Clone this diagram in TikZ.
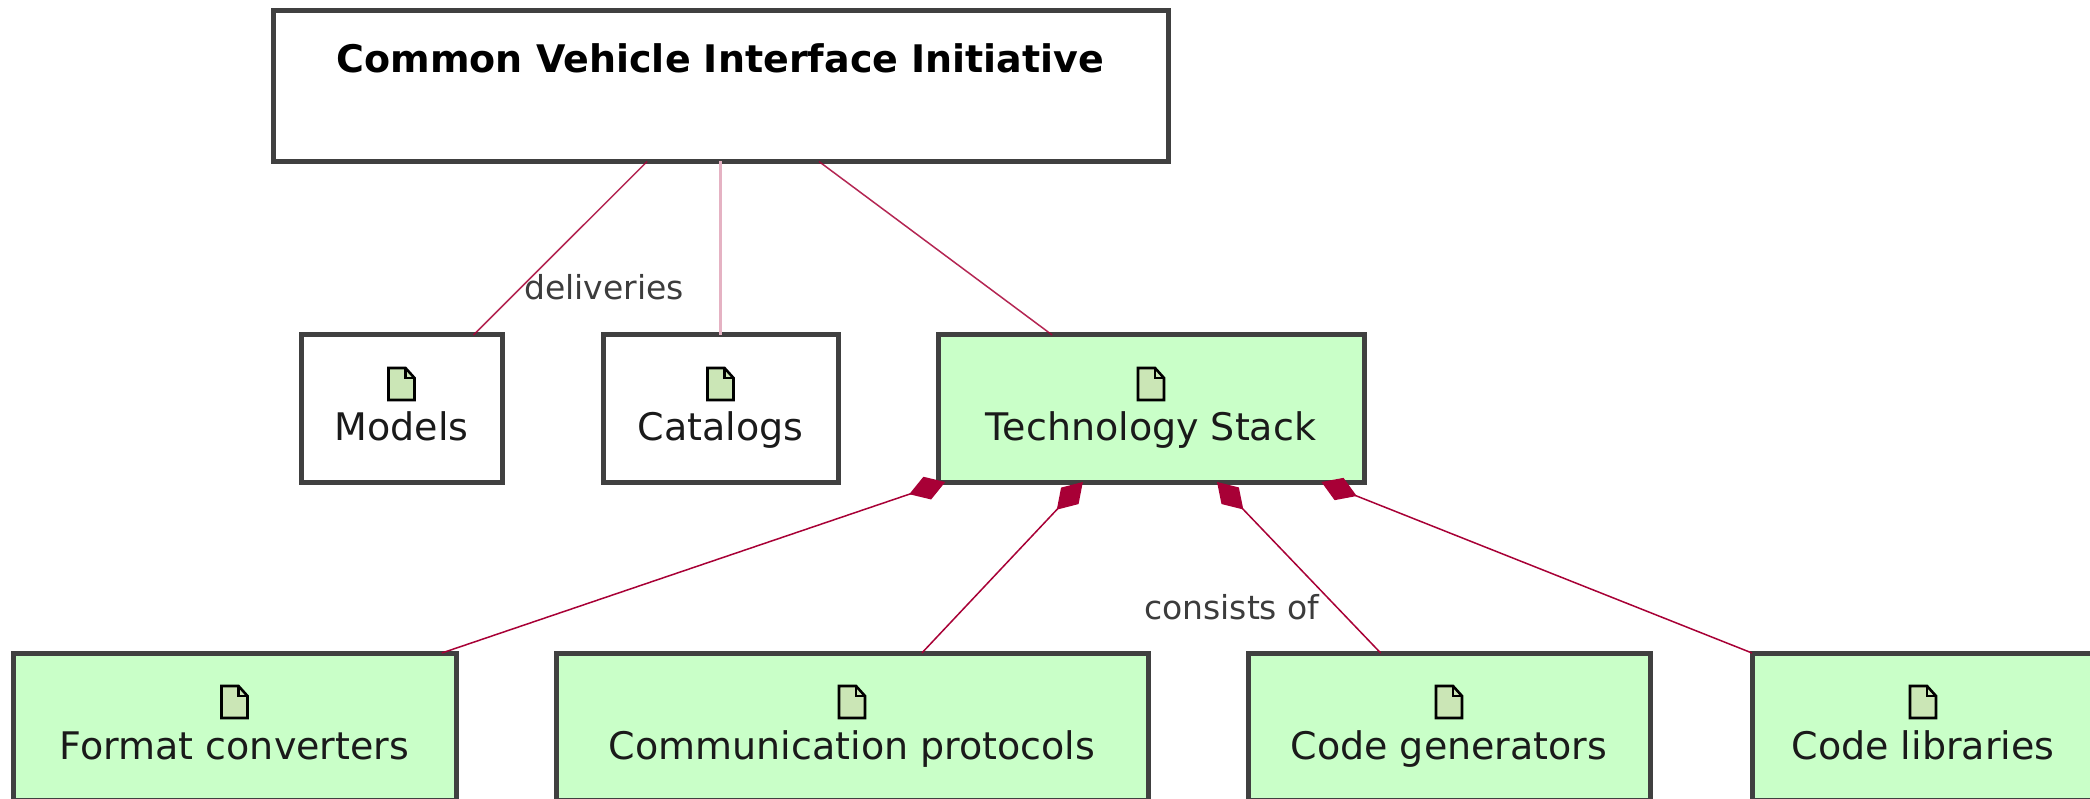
\documentclass[tikz,border=0pt]{standalone}
\usepackage{fontspec}
\setmainfont{DejaVu Sans}
\usetikzlibrary{arrows.meta,calc}
\definecolor{link}{HTML}{A80036}
\definecolor{edge}{HTML}{404040}
\definecolor{mint}{HTML}{C9FFC8}
\definecolor{leaf}{HTML}{CBE6B6}
\definecolor{ink}{HTML}{1A1A1A}
\tikzset{
  x=1pt,y=-1pt,
  box/.style={draw=edge,line width=5pt,rectangle,inner sep=0pt,outer sep=0pt,text=ink,font=\fontsize{38}{38}\selectfont,minimum height=147pt},
  plain/.style={box,fill=white},
  green/.style={box,fill=mint},
  upper/.style={text height=63pt,text depth=0pt},
  lower/.style={text height=66pt,text depth=0pt},
  line/.style={draw=link,line width=1.5pt,opacity=.85},
  pale/.style={draw=link!30,line width=3pt},
  comp/.style={draw=link,line width=1.5pt,{Diamond[length=38pt,width=24pt,fill=link]}-},
  tag/.style={text=ink!85,font=\fontsize{33}{33}\selectfont,inner sep=0pt,anchor=base west},
  pics/page/.style={code={
    \draw[black,line width=2.6pt,fill=leaf] (-13,-16) -- (4,-16) -- (13,-6) -- (13,16) -- (-13,16) -- cycle;
    \draw[black,line width=2.6pt] (4,-16) -- (4,-6) -- (13,-6);
  }},
}
\begin{document}
\begin{tikzpicture}
\useasboundingbox (0,0) rectangle (2090,799);
\fill[white] (0,0) rectangle (2090,799);
\node[box,fill=white,text=black,minimum width=895pt,minimum height=151pt,text height=0pt,text depth=26pt,font=\fontsize{38}{38}\selectfont\bfseries] (top) at (720.5,86) {Common Vehicle Interface Initiative};
\node[plain,upper,minimum width=201pt] (models) at (401.5,408.5) {Models};
\node[plain,upper,minimum width=235pt] (catalogs) at (720.5,408.5) {Catalogs};
\node[green,upper,minimum width=426pt] (tech) at (1151,408.5) {Technology Stack};
\node[green,lower,minimum width=443pt] (fc) at (234.5,726.5) {Format converters};
\node[green,lower,minimum width=592pt] (cp) at (852,726.5) {Communication protocols};
\node[green,lower,minimum width=402pt] (cg) at (1449,726.5) {Code generators};
\node[green,lower,minimum width=342pt] (cl) at (1923,726.5) {Code libraries};
\pic at (401.5,384) {page};
\pic at (720.5,384) {page};
\pic at (1151,384) {page};
\pic at (234.5,702) {page};
\pic at (852,702) {page};
\pic at (1449,702) {page};
\pic at (1923,702) {page};
\draw[line] ($(top.south west)!0.418!(top.south east)$) -- ($(models.north west)!0.858!(models.north east)$);
\draw[pale] (top.south) -- (catalogs.north);
\draw[line] ($(top.south west)!0.61!(top.south east)$) -- ($(tech.north west)!0.268!(tech.north east)$);
\draw[comp] ($(tech.south west)!0.017!(tech.south east)$) -- ($(fc.north west)!0.968!(fc.north east)$);
\draw[comp] ($(tech.south west)!0.34!(tech.south east)$) -- ($(cp.north west)!0.618!(cp.north east)$);
\draw[comp] ($(tech.south west)!0.655!(tech.south east)$) -- ($(cg.north west)!0.33!(cg.north east)$);
\draw[comp] ($(tech.south west)!0.9!(tech.south east)$) -- (cl.north west);
\node[tag] (t1) at (524,300) {deliveries};
\node[tag] (t2) at (1144,619) {consists of};
\end{tikzpicture}
\end{document}
